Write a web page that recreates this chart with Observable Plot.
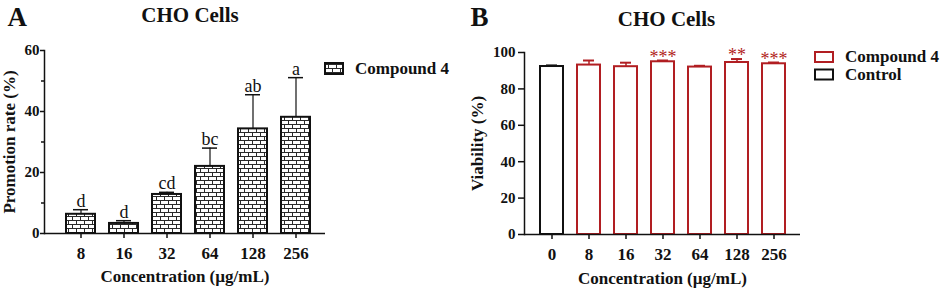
<!DOCTYPE html>
<html><head><meta charset="utf-8">
<script src="https://cdn.jsdelivr.net/npm/d3@7"></script>
<script src="https://cdn.jsdelivr.net/npm/@observablehq/plot@0.6"></script>
<style>
body{margin:0;background:#fff;}
#wrap{position:relative;width:941px;height:290px;overflow:hidden;font-family:"Liberation Serif","Times New Roman",serif;}
#wrap > svg{position:absolute;top:0;}
</style></head><body><div id="wrap"></div>
<script>
// ---- Panel A data ----
const catsA = ["8","16","32","64","128","256"];
const meanA = [6.3,3.3,12.8,22.0,34.3,38.1];
const sdA = [1.5,0.9,0.7,6.0,11.2,13.0];
const lettersA = ["d","d","cd","bc","ab","a"];
const yTicksA = [0,20,40,60];
const yMinorA = [10,30,50];

// ---- Panel B data ----
const catsB = ["0","8","16","32","64","128","256"];
const meanB = [92.3,93.1,92.2,94.9,92.0,94.5,93.8];
const sdB = [0.6,2.5,2.2,0.7,0.7,1.9,0.7];
const groupB = ["Control","Compound 4","Compound 4","Compound 4","Compound 4","Compound 4","Compound 4"];
const starsB = ["","","","***","","**","***"];
const yTicksB = [0,20,40,60,80,100];
const groupsB = ["Compound 4","Control"];

const FONT = '"Liberation Serif","Times New Roman",serif';
const RED = "#b11e22";

const dataA = catsA.map((c,i)=>({c, mean:meanA[i], top:meanA[i]+sdA[i], letter:lettersA[i]}));
const dataB = catsB.map((c,i)=>({c, mean:meanB[i], top:meanB[i]+sdB[i], group:groupB[i], star:starsB[i]}));

function brickDefs(){
  const defs = d3.create("svg:defs");
  const p = defs.append("pattern").attr("id","brick").attr("patternUnits","userSpaceOnUse")
    .attr("width",8).attr("height",8);
  p.append("rect").attr("width",8).attr("height",8).attr("fill","white");
  p.append("path").attr("d","M0,0.5H8M0,4.5H8M0.5,0V4.5M4.5,4.5V8")
    .attr("stroke","#2a2a2a").attr("stroke-width",1).attr("fill","none");
  return defs.node();
}

const plotA = Plot.plot({
  width:470, height:290, marginLeft:44, marginRight:145, marginTop:50, marginBottom:57,
  style:{fontFamily:FONT, fontWeight:"bold", background:"transparent", overflow:"visible", color:"#111"},
  x:{type:"band", domain:catsA, paddingInner:0.335, paddingOuter:0.39, align:0.6, axis:null},
  y:{domain:[0,60], axis:null},
  marks:[
    brickDefs,
    Plot.axisY({ticks:yTicksA, tickSize:4, tickPadding:1, fontSize:15, fontFamily:FONT, label:null, strokeWidth:1.5}),
    Plot.axisY({ticks:yMinorA, tickSize:3, tickFormat:()=>"", label:null, strokeWidth:1.5}),
    Plot.axisX({tickSize:5, tickPadding:8, fontSize:17, fontFamily:FONT, label:null, strokeWidth:1.5}),
    Plot.barY(dataA, {x:"c", y:"mean", fill:"url(#brick)", stroke:"#111", strokeWidth:2}),
    Plot.ruleX(dataA, {x:"c", y1:"mean", y2:"top", strokeWidth:1.2}),
    Plot.tickY(dataA, {x:"c", y:"top", inset:7, strokeWidth:1.5}),
    Plot.ruleY([0], {strokeWidth:1.5}),
    Plot.frame({anchor:"left", strokeWidth:1.5}),
    Plot.text(dataA, {x:"c", y:"top", text:"letter", dy:-3, lineAnchor:"bottom", fontSize:18, fontWeight:"normal"}),
    Plot.text(["CHO Cells"], {text:d=>d, frameAnchor:"top", dx:5, dy:-29, lineAnchor:"bottom", fontSize:21}),
    Plot.text(["A"], {text:d=>d, frameAnchor:"top-left", textAnchor:"start", dx:-37, dy:-25, lineAnchor:"bottom", fontSize:27}),
    Plot.text(["Promotion rate (%)"], {text:d=>d, frameAnchor:"left", textAnchor:"middle", lineAnchor:"middle", rotate:-90, dx:-35, fontSize:17}),
    Plot.text(["Concentration (µg/mL)"], {text:d=>d, frameAnchor:"bottom", dy:48, lineAnchor:"bottom", fontSize:17})
  ]
});

const plotB = Plot.plot({
  width:471, height:290, marginLeft:54, marginRight:141, marginTop:52, marginBottom:56,
  style:{fontFamily:FONT, fontWeight:"bold", background:"transparent", overflow:"visible", color:"#111"},
  x:{type:"band", domain:catsB, paddingInner:0.38, paddingOuter:0.355, align:0.5, axis:null},
  y:{domain:[0,100], axis:null},
  color:{domain:groupsB, range:[RED,"#111"]},
  marks:[
    Plot.axisY({ticks:yTicksB, tickSize:6, tickPadding:3, fontSize:15, fontFamily:FONT, label:null, strokeWidth:1.5}),
    Plot.axisX({tickSize:5, tickPadding:8, fontSize:17, fontFamily:FONT, label:null, strokeWidth:1.5}),
    Plot.barY(dataB, {x:"c", y:"mean", fill:"white", stroke:"group", strokeWidth:2}),
    Plot.ruleX(dataB, {x:"c", y1:"mean", y2:"top", stroke:"group", strokeWidth:1.5}),
    Plot.tickY(dataB, {x:"c", y:"top", inset:6, stroke:"group", strokeWidth:2}),
    Plot.ruleY([0], {strokeWidth:1.5}),
    Plot.frame({anchor:"left", strokeWidth:1.5}),
    Plot.text(dataB, {x:"c", y:"top", text:"star", dy:2, lineAnchor:"bottom", fontSize:18, fontWeight:"normal", fill:RED}),
    Plot.text(["CHO Cells"], {text:d=>d, frameAnchor:"top", dx:4, dy:-27, lineAnchor:"bottom", fontSize:21}),
    Plot.text(["B"], {text:d=>d, frameAnchor:"top-left", textAnchor:"start", dx:-54, dy:-27, lineAnchor:"bottom", fontSize:27}),
    Plot.text(["Viability (%)"], {text:d=>d, frameAnchor:"left", textAnchor:"middle", lineAnchor:"middle", rotate:-90, dx:-47, fontSize:17}),
    Plot.text(["Concentration (µg/mL)"], {text:d=>d, frameAnchor:"bottom", dy:49, lineAnchor:"bottom", fontSize:17})
  ]
});

const wrap = document.getElementById("wrap");
plotA.style.left = "0px";
plotB.style.left = "470px";
wrap.appendChild(plotA);
wrap.appendChild(plotB);

// ---- legends ----
const leg = d3.select(wrap).append("svg").attr("width",941).attr("height",290)
  .style("left","0px").style("pointer-events","none")
  .style("font-family",FONT).style("font-weight","bold").style("font-size","17px");
leg.append("rect").attr("x",325).attr("y",63).attr("width",18).attr("height",11)
  .attr("fill","url(#brick)").attr("stroke","#111").attr("stroke-width",2);
leg.append("text").attr("x",355).attr("y",74).attr("fill","#111").text("Compound 4");
const colB = {"Compound 4":RED, "Control":"#111"};
groupsB.forEach((g,i)=>{
  leg.append("rect").attr("x",815).attr("y",52+i*17.5).attr("width",18).attr("height",10)
    .attr("fill","white").attr("stroke",colB[g]).attr("stroke-width",2);
  leg.append("text").attr("x",845).attr("y",62+i*17.5).attr("fill","#111").text(g);
});
</script></body></html>
